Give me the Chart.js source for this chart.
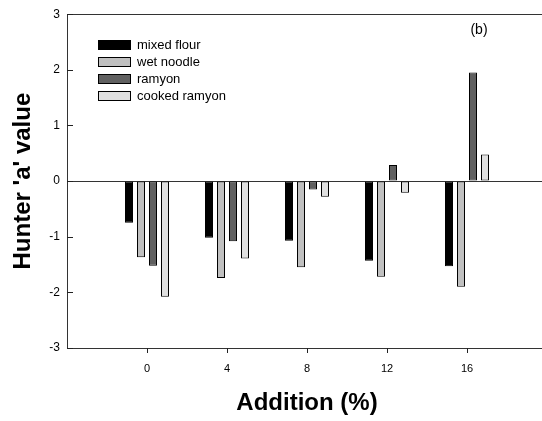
<!DOCTYPE html>
<html>
<head>
<meta charset="utf-8">
<script src="https://cdn.jsdelivr.net/npm/chart.js@4/dist/chart.umd.min.js"></script>
<style>
  html, body { margin: 0; padding: 0; background: #fff; overflow: hidden; }
  canvas { display: block; }
</style>
</head>
<body>
<canvas id="myChart" width="560" height="421"></canvas>
<script>
'use strict';

//data
const additions = [0, 4, 8, 12, 16];
const seriesNames = ['mixed flour', 'wet noodle', 'ramyon', 'cooked ramyon'];
const mixedFlour = [-0.75, -1.02, -1.07, -1.43, -1.53];
const wetNoodle = [-1.37, -1.74, -1.55, -1.72, -1.90];
const ramyon = [-1.52, -1.08, -0.15, 0.29, 1.95];
const cookedRamyon = [-2.08, -1.39, -0.28, -0.21, 0.48];
const yTicks = [-3, -2, -1, 0, 1, 2, 3];

const fills = ['#000000', '#c0c0c0', '#606060', '#e0e0e0'];
const font = 'Liberation Sans, Arial, sans-serif';

function toPoints(values) {
  return values.map((v, i) => ({x: additions[i], y: v}));
}

const allSeries = [mixedFlour, wetNoodle, ramyon, cookedRamyon];
const datasets = allSeries.map((values, i) => ({
  label: seriesNames[i],
  data: toPoints(values),
  backgroundColor: fills[i],
  borderColor: '#000',
  borderWidth: 1,
  borderSkipped: false,
  categoryPercentage: 0.6,
  barPercentage: 0.667
}));

//tick marks (y inward, x outward), legend box and the (b) tag
const extras = {
  id: 'extras',
  afterDraw(chart) {
    const ctx = chart.ctx;
    const area = chart.chartArea;
    const xs = chart.scales.x;
    const ys = chart.scales.y;
    ctx.save();
    ctx.setLineDash([]);
    ctx.strokeStyle = '#222';
    ctx.lineWidth = 1;
    ctx.beginPath();
    for (let v of yTicks) {
      let py = Math.round(ys.getPixelForValue(v)) + 0.5;
      ctx.moveTo(area.left, py);
      ctx.lineTo(area.left + 6, py);
    }
    for (let v of additions) {
      let px = Math.round(xs.getPixelForValue(v)) + 0.5;
      ctx.moveTo(px, area.bottom);
      ctx.lineTo(px, area.bottom + 5);
    }
    ctx.stroke();
    //legend
    ctx.font = '13px ' + font;
    ctx.textBaseline = 'middle';
    for (let i = 0; i < seriesNames.length; i++) {
      let top = 40 + i * 17;
      ctx.fillStyle = fills[i];
      ctx.fillRect(98.5, top + 0.5, 32, 9);
      ctx.strokeStyle = '#000';
      ctx.strokeRect(98.5, top + 0.5, 32, 9);
      ctx.fillStyle = '#000';
      ctx.fillText(seriesNames[i], 137, top + 5);
    }
    ctx.font = '14px ' + font;
    ctx.textAlign = 'center';
    ctx.fillText('(b)', 479, 30);
    ctx.restore();
  }
};

const config = {
  type: 'bar',
  data: {datasets: datasets},
  options: {
    responsive: false,
    animation: false,
    layout: {padding: {top: 12, right: 13, bottom: 3, left: 0}},
    plugins: {legend: {display: false}, tooltip: {enabled: false}},
    scales: {
      x: {
        type: 'linear',
        min: -4,
        max: 20,
        offset: false,
        afterBuildTicks: (scale) => {
          scale.ticks = additions.map(v => ({value: v}));
        },
        grid: {offset: false, drawOnChartArea: false, tickLength: 5, color: '#333'},
        border: {display: true, color: '#333'},
        ticks: {font: {family: font, size: 11}, color: '#000', padding: 9},
        title: {
          display: true,
          text: 'Addition (%)',
          font: {family: font, size: 24, weight: 'bold'},
          color: '#000',
          padding: {top: 4, bottom: 0}
        },
        afterFit: (scale) => { scale.height = 70; }
      },
      y: {
        min: -3,
        max: 3,
        afterBuildTicks: (scale) => {
          scale.ticks = yTicks.map(v => ({value: v}));
        },
        grid: {
          drawTicks: false,
          color: (c) => (c.tick && (c.tick.value === 0 || c.tick.value === 3)) ? '#333' : 'rgba(0,0,0,0)'
        },
        border: {display: true, color: '#333'},
        ticks: {font: {family: font, size: 12}, color: '#000', padding: 7},
        title: {
          display: true,
          text: "Hunter 'a' value",
          font: {family: font, size: 24, weight: 'bold'},
          color: '#000',
          padding: {top: 9, bottom: 0}
        },
        afterFit: (scale) => { scale.width = 67; }
      }
    }
  },
  plugins: [extras]
};

const myChart = new Chart(document.getElementById('myChart'), config);
</script>
</body>
</html>
